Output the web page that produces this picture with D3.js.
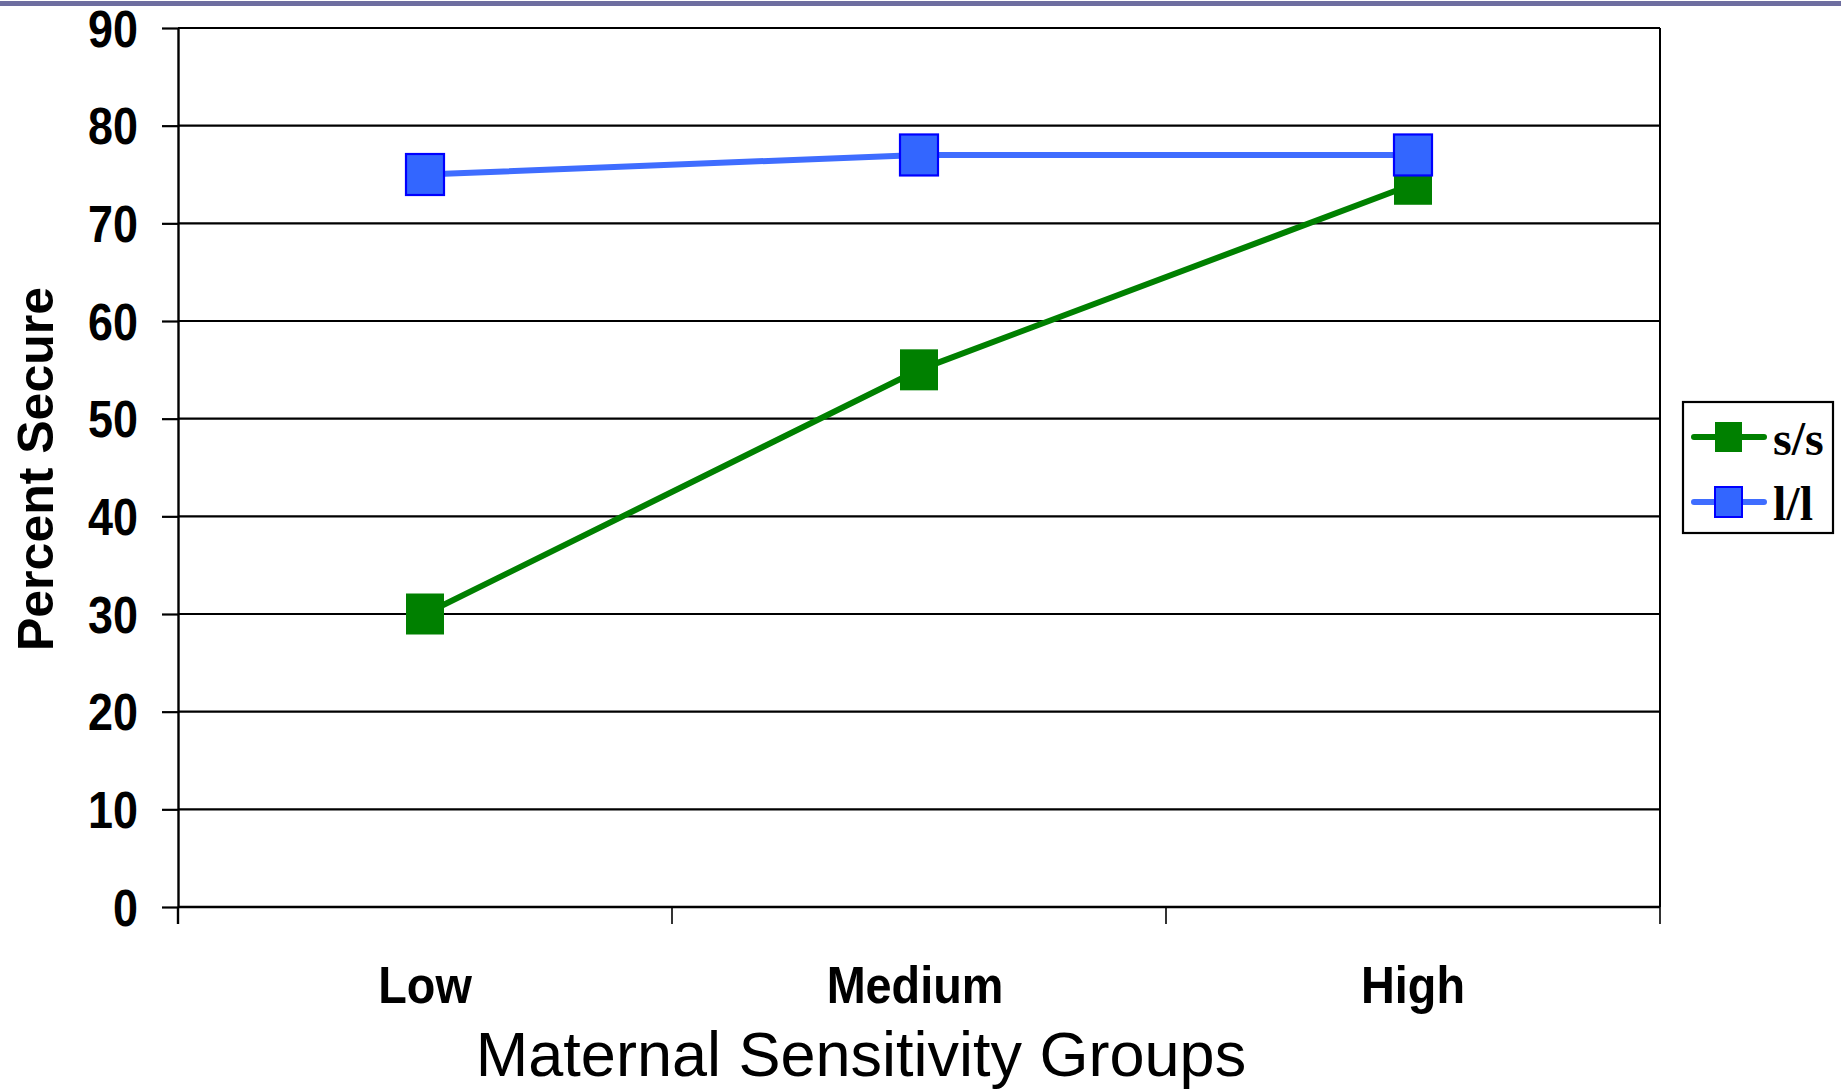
<!DOCTYPE html>
<html>
<head>
<meta charset="utf-8">
<script src="https://cdn.jsdelivr.net/npm/d3@7"></script>
<style>
  html, body { margin: 0; padding: 0; background: #fff; }
  svg { display: block; }
</style>
</head>
<body>
<svg id="chart" width="1841" height="1091"></svg>
<script>
// Percent secure by maternal sensitivity group, per genotype
const categories = ["Low", "Medium", "High"];
const ssValues = [30, 55, 74];   // s/s
const llValues = [75, 77, 77];   // l/l
const yTicks = [0, 10, 20, 30, 40, 50, 60, 70, 80, 90];
const seriesNames = ["s/s", "l/l"];

const svg = d3.select("#chart");
const plot = { left: 178, right: 1660, top: 28, bottom: 907 };

const x = d3.scaleBand().domain(categories).range([plot.left, plot.right]);
const y = d3.scaleLinear().domain([0, 90]).range([plot.bottom, plot.top]);

// thin banner rule across the top of the slide
svg.append("rect").attr("x", 0).attr("y", 1).attr("width", 1841).attr("height", 5)
  .attr("fill", "#6e6ea0");

// horizontal gridlines
svg.append("g").selectAll("line").data(yTicks).join("line")
  .attr("x1", plot.left).attr("x2", plot.right)
  .attr("y1", d => y(d)).attr("y2", d => y(d))
  .attr("stroke", "#000").attr("stroke-width", 2.2);

// right border of plot area
svg.append("line")
  .attr("x1", plot.right).attr("x2", plot.right)
  .attr("y1", plot.top).attr("y2", plot.bottom)
  .attr("stroke", "#000").attr("stroke-width", 2);

// y axis
const yAxis = svg.append("g").attr("transform", `translate(${plot.left},0)`)
  .call(d3.axisLeft(y).tickValues(yTicks).tickSize(16).tickSizeOuter(0).tickFormat(d3.format("d")));
yAxis.select(".domain").attr("stroke", "#000").attr("stroke-width", 2.4);
yAxis.selectAll(".tick line").attr("stroke", "#000").attr("stroke-width", 2.2);
yAxis.selectAll(".tick text")
  .attr("x", null).attr("dy", null)
  .attr("transform", "translate(-40,18) scale(0.88,1)")
  .attr("text-anchor", "end")
  .attr("fill", "#000")
  .style("font-family", "'Liberation Sans', Arial, sans-serif")
  .style("font-weight", "bold").style("font-size", "51px");

// x axis: ticks at category boundaries
const xAxis = svg.append("g").attr("transform", `translate(0,${plot.bottom})`);
const boundaries = categories.map(c => x(c)).concat([x.range()[1]]);
xAxis.selectAll("line").data(boundaries).join("line")
  .attr("x1", d => d).attr("x2", d => d)
  .attr("y1", 0).attr("y2", 17)
  .attr("stroke", "#000").attr("stroke-width", d => d === plot.left ? 2.4 : 1.6);
xAxis.append("line").attr("x1", plot.left).attr("x2", plot.right)
  .attr("y1", 0).attr("y2", 0).attr("stroke", "#000").attr("stroke-width", 2.4);
xAxis.selectAll("text").data(categories).join("text")
  .attr("transform", d => `translate(${x(d) + x.bandwidth() / 2 - (d === "Medium" ? 4 : 0)},96) scale(0.9,1)`)
  .attr("text-anchor", "middle")
  .attr("fill", "#000")
  .style("font-family", "'Liberation Sans', Arial, sans-serif")
  .style("font-weight", "bold").style("font-size", "52px")
  .text(d => d);

// axis titles
svg.append("text")
  .attr("x", 861).attr("y", 1076)
  .attr("text-anchor", "middle")
  .style("font-family", "'Liberation Sans', Arial, sans-serif")
  .style("font-size", "63px")
  .text("Maternal Sensitivity Groups");

svg.append("text")
  .attr("transform", "translate(53,469) rotate(-90)")
  .attr("text-anchor", "middle")
  .style("font-family", "'Liberation Sans', Arial, sans-serif")
  .style("font-weight", "bold").style("font-size", "50px")
  .text("Percent Secure");

// series
const series = [
  { name: seriesNames[0], values: ssValues, line: "#008000", fill: "#008000", stroke: "none" },
  { name: seriesNames[1], values: llValues, line: "#3f6dff", fill: "#3366ff", stroke: "#0000ff" }
];
const cx = c => x(c) + x.bandwidth() / 2;
const lineGen = d3.line().x(d => cx(d.cat)).y(d => y(d.v));
const mw = 38, mh = 41;

series.forEach(s => {
  const pts = categories.map((c, i) => ({ cat: c, v: s.values[i] }));
  svg.append("path").datum(pts)
    .attr("d", lineGen)
    .attr("fill", "none").attr("stroke", s.line).attr("stroke-width", 6);
  svg.append("g").selectAll("rect").data(pts).join("rect")
    .attr("x", d => cx(d.cat) - mw / 2).attr("y", d => y(d.v) - mh / 2)
    .attr("width", mw).attr("height", mh)
    .attr("fill", s.fill)
    .attr("stroke", s.stroke).attr("stroke-width", s.stroke === "none" ? 0 : 2.2);
});

// legend
const legend = svg.append("g");
legend.append("rect").attr("x", 1683).attr("y", 402).attr("width", 150).attr("height", 131)
  .attr("fill", "#fff").attr("stroke", "#000").attr("stroke-width", 2.2);
const legendRows = [437, 502];
series.forEach((s, i) => {
  const ly = legendRows[i];
  legend.append("line").attr("x1", 1694).attr("x2", 1764).attr("y1", ly).attr("y2", ly)
    .attr("stroke", s.line).attr("stroke-width", 6).attr("stroke-linecap", "round");
  legend.append("rect").attr("x", 1715).attr("y", ly - 15).attr("width", 27).attr("height", 30)
    .attr("fill", s.fill).attr("stroke", s.stroke).attr("stroke-width", s.stroke === "none" ? 0 : 2);
  legend.append("text").attr("x", 1773).attr("y", ly + 18)
    .style("font-family", "'Liberation Serif', 'Times New Roman', serif")
    .style("font-weight", "bold").style("font-size", "48px")
    .text(s.name);
});
</script>
</body>
</html>
